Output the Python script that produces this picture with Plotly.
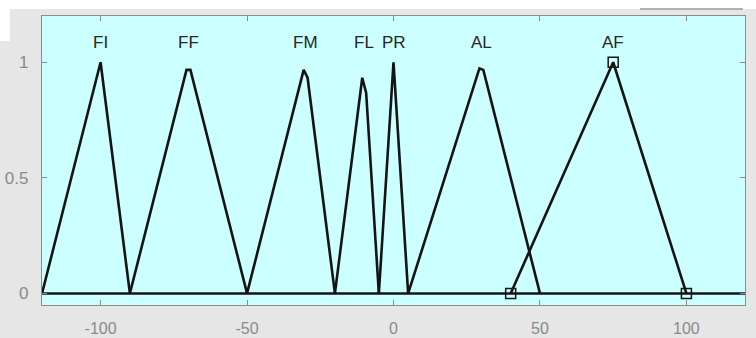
import plotly.graph_objects as go

# Membership functions (x, y)
FI_x = [-120, -100, -90]
FI_y = [0, 1, 0]
FF_x = [-90, -70.667, -69.333, -50]
FF_y = [0, 0.967, 0.967, 0]
FM_x = [-50, -30.667, -29.333, -20]
FM_y = [0, 0.967, 0.933, 0]
FL_x = [-20, -10.667, -9.333, -5]
FL_y = [0, 0.933, 0.867, 0]
PR_x = [-5, 0, 5]
PR_y = [0, 1, 0]
AL_x = [5, 29.333, 30.667, 50]
AL_y = [0, 0.973, 0.967, 0]
AF_x = [40, 75, 100]
AF_y = [0, 1, 0]

base_x = [-120, 120]
base_y = [0, 0]

label_names = ["FI", "FF", "FM", "FL", "PR", "AL", "AF"]
label_x = [-100, -70, -30, -10, 0, 30, 75]
label_y = 1.085

x_ticks = [-100, -50, 0, 50, 100]
x_tick_text = ["-100", "-50", "0", "50", "100"]
y_ticks = [0, 0.5, 1]
y_tick_text = ["0", "0.5", "1"]

fig = go.Figure()
line_style = dict(color="#141414", width=2.6)
fig.add_trace(go.Scatter(x=base_x, y=base_y, mode="lines", line=dict(color="#141414", width=2.4)))
for xs, ys in [(FI_x, FI_y), (FF_x, FF_y), (FM_x, FM_y), (FL_x, FL_y), (PR_x, PR_y), (AL_x, AL_y)]:
    fig.add_trace(go.Scatter(x=xs, y=ys, mode="lines", line=line_style))
fig.add_trace(go.Scatter(x=AF_x, y=AF_y, mode="lines+markers", line=line_style,
                         marker=dict(symbol="square-open", size=10, color="#141414",
                                     line=dict(width=1.5, color="#141414"))))

for name, lx in zip(label_names, label_x):
    fig.add_annotation(x=lx, y=label_y, text=name, showarrow=False,
                       font=dict(family="Arial, Liberation Sans", size=17, color="#262626"))

# white strips of the cropped window at the top / left
fig.add_shape(type="rect", xref="paper", yref="paper", x0=-0.1, x1=1.1,
              y0=1 + 7 / 289, y1=1 + 16 / 289 + 0.01, fillcolor="white", line_width=0, layer="below")
fig.add_shape(type="rect", xref="paper", yref="paper", x0=-0.1, x1=-32 / 703,
              y0=1 - 25 / 289, y1=1 + 16 / 289 + 0.01, fillcolor="white", line_width=0, layer="below")
fig.add_shape(type="line", xref="paper", yref="paper", x0=(640 - 42) / 703, x1=(743 - 42) / 703,
              y0=1 + 7 / 289, y1=1 + 7 / 289, line=dict(color="#9a9a9a", width=1.5))

axis_common = dict(showgrid=False, zeroline=False, ticks="inside", ticklen=5, tickcolor="#8a8a8a",
                   tickwidth=1, showline=True, linecolor="#8c8c8c", linewidth=1.3, mirror="ticks",
                   automargin=False)
fig.update_xaxes(range=[-120, 120], tickvals=x_ticks, ticktext=x_tick_text,
                 ticklabelstandoff=9,
                 tickfont=dict(family="Arial, Liberation Sans", size=16, color="#8a8a8a"),
                 **axis_common)
fig.update_yaxes(range=[-0.05, 1.2], tickvals=y_ticks, ticktext=y_tick_text,
                 ticklabelstandoff=9,
                 tickfont=dict(family="Arial, Liberation Sans", size=17, color="#8a8a8a"),
                 **axis_common)

fig.update_layout(width=756, height=338, margin=dict(l=42, r=11, t=16, b=33),
                  paper_bgcolor="#e6e6e6", plot_bgcolor="#ccffff", showlegend=False)
fig.write_html("out.html")
